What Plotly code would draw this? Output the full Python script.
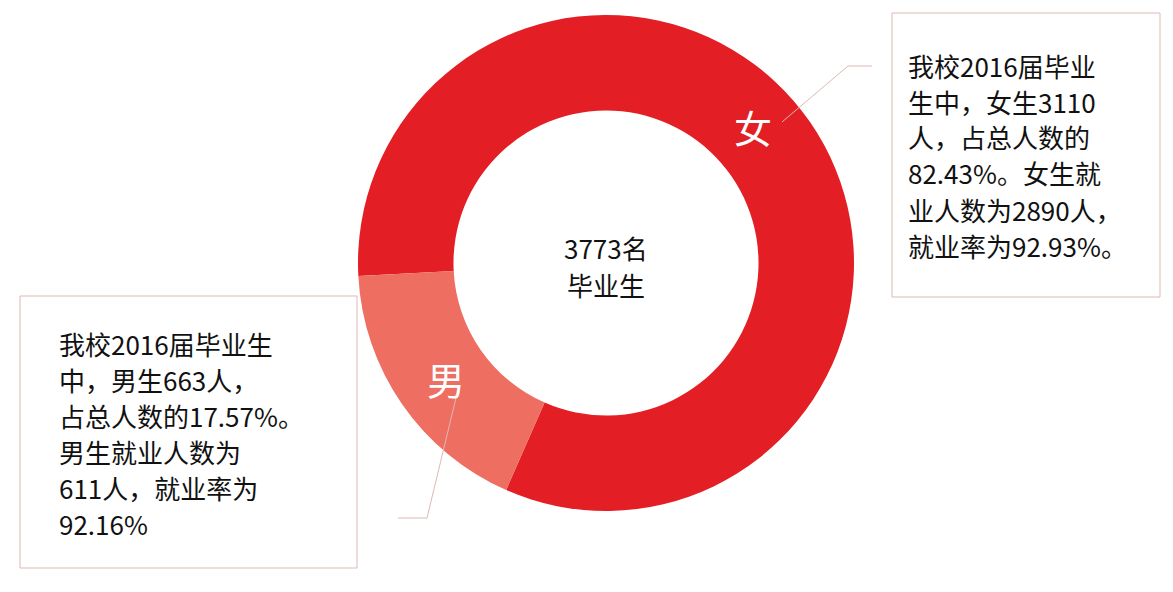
import plotly.graph_objects as go

# ---- data ----
genders = ["女", "男"]
counts = [3110, 663]
slice_colors = ["#E31E25", "#EE6E61"]
center_lines = ["3773名", "毕业生"]
female_note = ["我校2016届毕业", "生中，女生3110", "人，占总人数的", "82.43%。女生就", "业人数为2890人，", "就业率为92.93%。"]
male_note = ["我校2016届毕业生", "中，男生663人，", "占总人数的17.57%。", "男生就业人数为", "611人，就业率为", "92.16%"]

OFF = 8  # page body margin
W, H = 1173 - OFF, 592 - OFF
FONT = "Noto Sans CJK SC, Microsoft YaHei, sans-serif"


def px(x):
    return (x - OFF) / W


def py(y):
    return 1 - (y - OFF) / H


cx, cy, R = 606, 263, 248

fig = go.Figure(go.Pie(
    labels=genders,
    values=counts,
    hole=0.615,
    sort=False,
    direction="clockwise",
    rotation=267,
    marker=dict(colors=slice_colors, line=dict(width=0)),
    textinfo="none",
    domain=dict(x=[px(cx - R), px(cx + R)], y=[py(cy + R), py(cy - R)]),
    showlegend=False,
    hoverinfo="label+value+percent",
))

line_col = "#DDB9B6"
shapes = [
    dict(type="rect", xref="paper", yref="paper", x0=px(892), x1=px(1160), y0=py(297), y1=py(13),
         line=dict(color=line_col, width=1), fillcolor="rgba(0,0,0,0)"),
    dict(type="rect", xref="paper", yref="paper", x0=px(20), x1=px(357), y0=py(568), y1=py(296),
         line=dict(color=line_col, width=1), fillcolor="rgba(0,0,0,0)"),
    dict(type="path", xref="paper", yref="paper",
         path=f"M {px(782)} {py(122)} L {px(848)} {py(66)} L {px(872)} {py(66)}",
         line=dict(color=line_col, width=1)),
    dict(type="path", xref="paper", yref="paper",
         path=f"M {px(456)} {py(398)} L {px(427)} {py(518)} L {px(398)} {py(518)}",
         line=dict(color=line_col, width=1)),
]

NOTE_SIZE = 26
STEP = 36

annotations = []
for lab, (lx, ly) in zip(genders, [(753, 126), (446, 378)]):
    annotations.append(dict(x=px(lx), y=py(ly), xref="paper", yref="paper", text=lab, showarrow=False,
                            font=dict(family=FONT, size=38, color="white"),
                            xanchor="center", yanchor="middle", borderpad=0))
for i, t in enumerate(center_lines):
    annotations.append(dict(x=px(cx), y=py(247 + 37 * i), xref="paper", yref="paper", text=t,
                            showarrow=False, font=dict(family=FONT, size=26, color="#111111"),
                            xanchor="center", yanchor="middle", borderpad=0))
for i, t in enumerate(female_note):
    annotations.append(dict(x=px(907), y=py(65 + STEP * i), xref="paper", yref="paper", text=t,
                            showarrow=False, font=dict(family=FONT, size=NOTE_SIZE, color="#111111"),
                            xanchor="left", yanchor="middle", borderpad=0))
for i, t in enumerate(male_note):
    annotations.append(dict(x=px(58), y=py(343 + STEP * i), xref="paper", yref="paper", text=t,
                            showarrow=False, font=dict(family=FONT, size=NOTE_SIZE, color="#111111"),
                            xanchor="left", yanchor="middle", borderpad=0))

fig.update_layout(
    width=W, height=H,
    margin=dict(l=0, r=0, t=0, b=0),
    paper_bgcolor="white", plot_bgcolor="white",
    shapes=shapes, annotations=annotations,
)

fig.write_html("out.html")
